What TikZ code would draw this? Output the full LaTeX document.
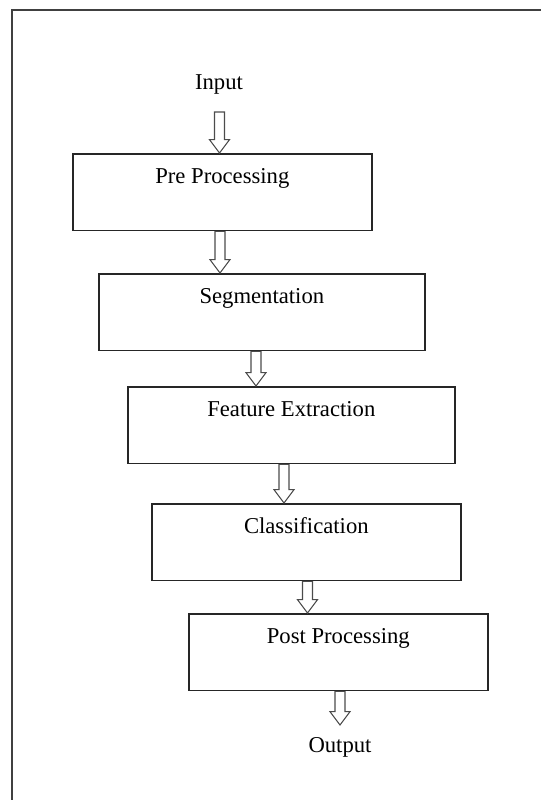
\documentclass[tikz,border=0pt]{standalone}
\usepackage{fontspec}
\setmainfont{Liberation Serif}
\usetikzlibrary{calc}
\newcommand{\hollowarrow}[2]{%
  \draw[harrow] let \p1=(#1), \p2=(#2) in
  (\x1-3.75pt,\y1) -- (\x1-3.75pt,\y2+10pt) -- (\x1-7.5pt,\y2+10pt) -- (\x1,\y2)
  -- (\x1+7.5pt,\y2+10pt) -- (\x1+3.75pt,\y2+10pt) -- (\x1+3.75pt,\y1) -- cycle;}
\begin{document}
\begin{tikzpicture}[x=0.75pt,y=-0.75pt,
  stage/.style={draw=black!85, line width=1.25pt, inner sep=0pt, anchor=north west,
    minimum width=#1, text height=22.5pt, text depth=35pt},
  label/.style={inner sep=0pt},
  harrow/.style={draw=black!70, line width=0.8pt, fill=white, line join=miter},
  frame/.style={draw=black!75, line width=1.5pt}]
\useasboundingbox (0,0) rectangle (541,800);
\fontsize{17}{20}\selectfont
% frame (only top and left edges visible)
\draw[frame] (12,830) -- (12,10) -- (560,10);
% nodes
\node[label] (in) at (219,84) {Input};
\node[stage=224.25pt] (pre) at (72,153) {Pre Processing};
\node[stage=244.5pt] (seg) at (98,273) {Segmentation};
\node[stage=245.25pt] (feat) at (127,386) {Feature Extraction};
\node[stage=231.75pt] (cls) at (151,503) {Classification};
\node[stage=224.25pt] (post) at (188,613) {Post Processing};
\node[label] (out) at (340,747) {Output};
% arrow anchor points
\coordinate (a1) at (219.5,112);
\coordinate (a2) at ($(pre.south west)+(148,0)$);
\coordinate (a3) at ($(seg.south west)+(158,0)$);
\coordinate (a4) at ($(feat.south west)+(157,0)$);
\coordinate (a5) at ($(cls.south west)+(156.5,0)$);
\coordinate (a6) at ($(post.south west)+(152,0)$);
\coordinate (a6end) at (340,725);
% arrows
\hollowarrow{a1}{a1 |- pre.north}
\hollowarrow{a2}{a2 |- seg.north}
\hollowarrow{a3}{a3 |- feat.north}
\hollowarrow{a4}{a4 |- cls.north}
\hollowarrow{a5}{a5 |- post.north}
\hollowarrow{a6}{a6end}
\end{tikzpicture}
\end{document}
